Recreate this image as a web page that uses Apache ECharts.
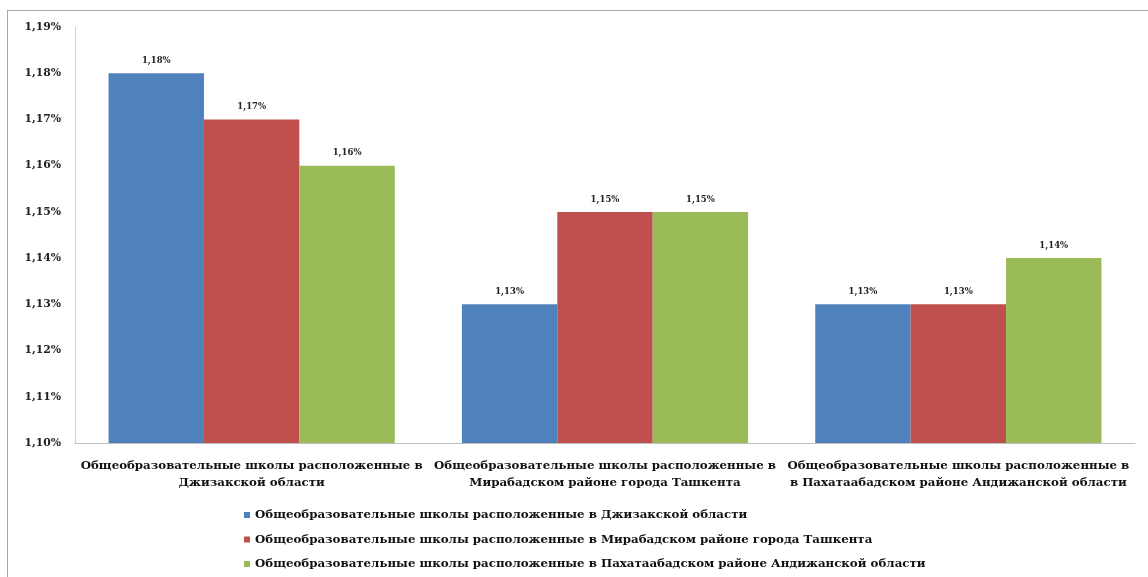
<!DOCTYPE html>
<html>
<head>
<meta charset="utf-8">
<script src="https://cdn.jsdelivr.net/npm/echarts@6/dist/echarts.min.js"></script>
<style>
html,body{margin:0;padding:0;background:#fff;overflow:hidden;}
#frame{position:absolute;left:7px;top:10px;width:1160px;height:600px;border:1px solid #a6a6a6;box-sizing:border-box;}
#chart{position:absolute;left:0;top:0;width:1148px;height:577px;}
</style>
</head>
<body>
<div id="frame"></div>
<div id="chart"></div>
<script>
const categories = [
  "Общеобразовательные школы расположенные в\nДжизакской области",
  "Общеобразовательные школы расположенные в\nМирабадском районе города Ташкента",
  "Общеобразовательные школы расположенные в\nв Пахатаабадском районе Андижанской области"
];
const seriesNames = [
  "Общеобразовательные школы расположенные в Джизакской области",
  "Общеобразовательные школы расположенные в Мирабадском районе города Ташкента",
  "Общеобразовательные школы расположенные в Пахатаабадском районе Андижанской области"
];
const jizzakh = [1.18, 1.13, 1.13];
const mirabad = [1.17, 1.15, 1.13];
const pakhtaabad = [1.16, 1.15, 1.14];
const colors = ["#4F81BD", "#C0504D", "#9BBB59"];
const fmt = v => v.toFixed(2).replace('.', ',') + '%';

const chart = echarts.init(document.getElementById('chart'));
const font = "'DejaVu Serif', 'Liberation Serif', serif";
const mk = (name, data, color) => ({
  name, type: 'bar', data, barGap: '0%', barCategoryGap: '19%',
  itemStyle: {color},
  label: {show: true, position: 'top', distance: 8, formatter: p => fmt(p.value),
    fontFamily: font, fontWeight: 'bold', fontSize: 8.5, color: '#222'}
});
chart.setOption({
  animation: false,
  textStyle: {fontFamily: font},
  grid: {left: 75, right: 13, top: 27, bottom: 134, containLabel: false},
  legend: {
    orient: 'vertical', left: 239, top: 504, itemGap: 12.5,
    icon: 'rect', itemWidth: 6, itemHeight: 6,
    textStyle: {fontFamily: font, fontWeight: 'bold', fontSize: 11.8, color: '#111'},
    data: seriesNames
  },
  xAxis: {
    type: 'category', data: categories,
    axisLine: {lineStyle: {color: '#bfbfbf'}},
    axisTick: {show: false},
    axisLabel: {interval: 0, fontFamily: font, fontWeight: 'bold', fontSize: 11.8, color: '#111', lineHeight: 17, margin: 14}
  },
  yAxis: {
    type: 'value', min: 1.10, max: 1.19, interval: 0.01,
    axisLine: {show: true, lineStyle: {color: '#d0d0d0'}},
    axisTick: {show: false},
    splitLine: {show: false},
    axisLabel: {formatter: v => fmt(v), fontFamily: font, fontWeight: 'bold', fontSize: 10.8, color: '#222', margin: 14}
  },
  series: [
    mk(seriesNames[0], jizzakh, colors[0]),
    mk(seriesNames[1], mirabad, colors[1]),
    mk(seriesNames[2], pakhtaabad, colors[2])
  ]
});
</script>
</body>
</html>
